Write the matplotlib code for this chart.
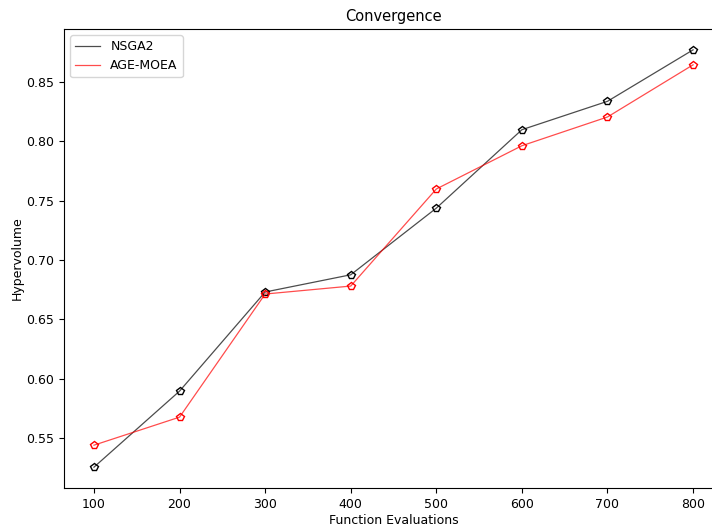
import matplotlib
matplotlib.use("Agg")
import matplotlib.pyplot as plt
import numpy as np

evals = [100, 200, 300, 400, 500, 600, 700, 800]
nsga2 = [0.5256, 0.5896, 0.6730, 0.6875, 0.7436, 0.8096, 0.8335, 0.8768]
agemoea = [0.5441, 0.5677, 0.6713, 0.6780, 0.7597, 0.7961, 0.8203, 0.8642]

plt.rcParams["font.size"] = 9

fig = plt.figure(figsize=(7.12, 5.26), dpi=100)
# the original picture is cropped on the right, so the axes run past the edge
ax = fig.add_axes([0.0899, 0.0722, 0.9256, 0.8727])

ax.plot(evals, nsga2, color="black", alpha=0.7, linewidth=0.9, label="NSGA2")
ax.plot(evals, nsga2, linestyle="none", marker="p", markersize=6,
        markerfacecolor="none", markeredgecolor="black", markeredgewidth=1.0)
ax.plot(evals, agemoea, color="red", alpha=0.7, linewidth=0.9, label="AGE-MOEA")
ax.plot(evals, agemoea, linestyle="none", marker="p", markersize=6,
        markerfacecolor="none", markeredgecolor="red", markeredgewidth=1.0)

ax.set_title("Convergence", fontsize=10.5)
ax.set_xlabel("Function Evaluations", labelpad=2.5)
ax.set_ylabel("Hypervolume", labelpad=2)
ax.legend(loc="upper left")

fig.savefig("out.png", dpi=100)
